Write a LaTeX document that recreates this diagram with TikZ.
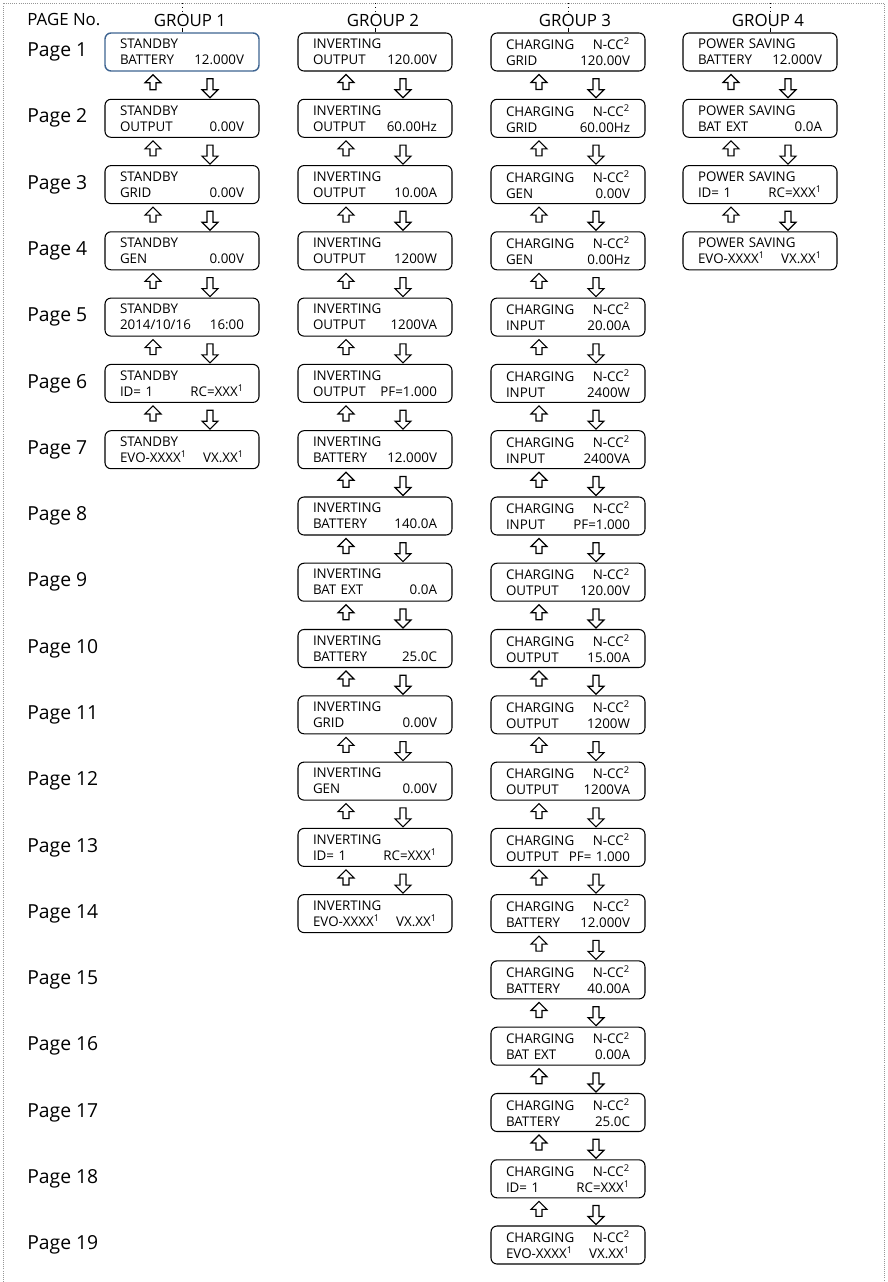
\documentclass[tikz,border=0pt]{standalone}
\usepackage{fontspec}
\setmainfont{Open Sans}
\usetikzlibrary{calc}
\definecolor{selblue}{RGB}{62, 100, 145}
\definecolor{framegray}{RGB}{150, 150, 150}

\begin{document}
\begin{tikzpicture}[
  x=0.02cm, y=-0.02cm,
  screen/.style={draw, semithick, rounded corners=3.4pt, minimum width=3.08cm, minimum height=0.76cm,
    text width=2.48cm, inner xsep=0.3cm, inner ysep=0pt, align=left, font=\fontsize{7.6}{9.1}\selectfont},
  active/.style={screen, draw=selblue, thick},
  pagelbl/.style={anchor=west, inner sep=0pt, font=\fontsize{11}{13}\selectfont},
  grouplbl/.style={inner sep=1pt, font=\fontsize{9.6}{12}\selectfont},
  frame/.style={draw=framegray, dash pattern=on 0.5pt off 0.7pt},
  updn/.style={draw, line width=0.65pt, to path={
    ($(\tikztostart.south)+(-29,3)$) -- ++(8,8) -- ++(-5,0) -- ++(0,7) -- ++(-6,0) -- ++(0,-7) -- ++(-5,0) -- cycle
    ($(\tikztotarget.north)+(28,-1)$) -- ++(8,-8) -- ++(-5,0) -- ++(0,-11) -- ++(-6,0) -- ++(0,11) -- ++(-5,0) -- cycle}}
]
  \useasboundingbox (0,0) rectangle (887,1282);
  \draw[frame] (3,1282) -- (3,3) -- (884,3) -- (884,1282);

  % Headers
  \node[pagelbl, font=\fontsize{9.6}{12}\selectfont] (pno) at (27,20) {PAGE No.};
  \node[grouplbl] (g1) at (190,20) {GROUP 1};
  \node[grouplbl] (g2) at (383,20) {GROUP 2};
  \node[grouplbl] (g3) at (575,20) {GROUP 3};
  \node[grouplbl] (g4) at (768,20) {GROUP 4};
  \coordinate (t1) at (182,3);
  \coordinate (t2) at (375,3);
  \coordinate (t3) at (568,3);
  \coordinate (t4) at (770,3);

  % Page numbers
  \node[pagelbl] (p1)  at (27,52)     {Page 1};
  \node[pagelbl] (p2)  at (27,118.3)  {Page 2};
  \node[pagelbl] (p3)  at (27,184.6)  {Page 3};
  \node[pagelbl] (p4)  at (27,250.8)  {Page 4};
  \node[pagelbl] (p5)  at (27,317.1)  {Page 5};
  \node[pagelbl] (p6)  at (27,383.4)  {Page 6};
  \node[pagelbl] (p7)  at (27,449.7)  {Page 7};
  \node[pagelbl] (p8)  at (27,516.0)  {Page 8};
  \node[pagelbl] (p9)  at (27,582.2)  {Page 9};
  \node[pagelbl] (p10) at (27,648.5)  {Page 10};
  \node[pagelbl] (p11) at (27,714.8)  {Page 11};
  \node[pagelbl] (p12) at (27,781.1)  {Page 12};
  \node[pagelbl] (p13) at (27,847.4)  {Page 13};
  \node[pagelbl] (p14) at (27,913.6)  {Page 14};
  \node[pagelbl] (p15) at (27,979.9)  {Page 15};
  \node[pagelbl] (p16) at (27,1046.2) {Page 16};
  \node[pagelbl] (p17) at (27,1112.5) {Page 17};
  \node[pagelbl] (p18) at (27,1178.8) {Page 18};
  \node[pagelbl] (p19) at (27,1245.0) {Page 19};

  % Standby column
  \node[active] (sb1) at (182,52)    {STANDBY\\BATTERY\hfill 12.000V};
  \node[screen] (sb2) at (182,118.3) {STANDBY\\OUTPUT\hfill 0.00V};
  \node[screen] (sb3) at (182,184.6) {STANDBY\\GRID\hfill 0.00V};
  \node[screen] (sb4) at (182,250.8) {STANDBY\\GEN\hfill 0.00V};
  \node[screen] (sb5) at (182,317.1) {STANDBY\\2014/10/16\hfill 16:00};
  \node[screen] (sb6) at (182,383.4) {STANDBY\\ID= 1\hfill RC=XXX\textsuperscript{1}};
  \node[screen] (sb7) at (182,449.7) {STANDBY\\EVO-XXXX\textsuperscript{1}\hfill VX.XX\textsuperscript{1}};

  % Inverting column
  \node[screen] (inv1)  at (375,52)    {INVERTING\\OUTPUT\hfill 120.00V};
  \node[screen] (inv2)  at (375,118.3) {INVERTING\\OUTPUT\hfill 60.00Hz};
  \node[screen] (inv3)  at (375,184.6) {INVERTING\\OUTPUT\hfill 10.00A};
  \node[screen] (inv4)  at (375,250.8) {INVERTING\\OUTPUT\hfill 1200W};
  \node[screen] (inv5)  at (375,317.1) {INVERTING\\OUTPUT\hfill 1200VA};
  \node[screen] (inv6)  at (375,383.4) {INVERTING\\OUTPUT\hfill PF=1.000};
  \node[screen] (inv7)  at (375,449.7) {INVERTING\\BATTERY\hfill 12.000V};
  \node[screen] (inv8)  at (375,516.0) {INVERTING\\BATTERY\hfill 140.0A};
  \node[screen] (inv9)  at (375,582.2) {INVERTING\\BAT EXT\hfill 0.0A};
  \node[screen] (inv10) at (375,648.5) {INVERTING\\BATTERY\hfill 25.0C};
  \node[screen] (inv11) at (375,714.8) {INVERTING\\GRID\hfill 0.00V};
  \node[screen] (inv12) at (375,781.1) {INVERTING\\GEN\hfill 0.00V};
  \node[screen] (inv13) at (375,847.4) {INVERTING\\ID= 1\hfill RC=XXX\textsuperscript{1}};
  \node[screen] (inv14) at (375,913.6) {INVERTING\\EVO-XXXX\textsuperscript{1}\hfill VX.XX\textsuperscript{1}};

  % Charging column
  \node[screen] (chg1)  at (568,52)     {CHARGING\hfill N-CC\textsuperscript{2}\\GRID\hfill 120.00V};
  \node[screen] (chg2)  at (568,118.3)  {CHARGING\hfill N-CC\textsuperscript{2}\\GRID\hfill 60.00Hz};
  \node[screen] (chg3)  at (568,184.6)  {CHARGING\hfill N-CC\textsuperscript{2}\\GEN\hfill 0.00V};
  \node[screen] (chg4)  at (568,250.8)  {CHARGING\hfill N-CC\textsuperscript{2}\\GEN\hfill 0.00Hz};
  \node[screen] (chg5)  at (568,317.1)  {CHARGING\hfill N-CC\textsuperscript{2}\\INPUT\hfill 20.00A};
  \node[screen] (chg6)  at (568,383.4)  {CHARGING\hfill N-CC\textsuperscript{2}\\INPUT\hfill 2400W};
  \node[screen] (chg7)  at (568,449.7)  {CHARGING\hfill N-CC\textsuperscript{2}\\INPUT\hfill 2400VA};
  \node[screen] (chg8)  at (568,516.0)  {CHARGING\hfill N-CC\textsuperscript{2}\\INPUT\hfill PF=1.000};
  \node[screen] (chg9)  at (568,582.2)  {CHARGING\hfill N-CC\textsuperscript{2}\\OUTPUT\hfill 120.00V};
  \node[screen] (chg10) at (568,648.5)  {CHARGING\hfill N-CC\textsuperscript{2}\\OUTPUT\hfill 15.00A};
  \node[screen] (chg11) at (568,714.8)  {CHARGING\hfill N-CC\textsuperscript{2}\\OUTPUT\hfill 1200W};
  \node[screen] (chg12) at (568,781.1)  {CHARGING\hfill N-CC\textsuperscript{2}\\OUTPUT\hfill 1200VA};
  \node[screen] (chg13) at (568,847.4)  {CHARGING\hfill N-CC\textsuperscript{2}\\OUTPUT\hfill PF= 1.000};
  \node[screen] (chg14) at (568,913.6)  {CHARGING\hfill N-CC\textsuperscript{2}\\BATTERY\hfill 12.000V};
  \node[screen] (chg15) at (568,979.9)  {CHARGING\hfill N-CC\textsuperscript{2}\\BATTERY\hfill 40.00A};
  \node[screen] (chg16) at (568,1046.2) {CHARGING\hfill N-CC\textsuperscript{2}\\BAT EXT\hfill 0.00A};
  \node[screen] (chg17) at (568,1112.5) {CHARGING\hfill N-CC\textsuperscript{2}\\BATTERY\hfill 25.0C};
  \node[screen] (chg18) at (568,1178.8) {CHARGING\hfill N-CC\textsuperscript{2}\\ID= 1\hfill RC=XXX\textsuperscript{1}};
  \node[screen] (chg19) at (568,1245.0) {CHARGING\hfill N-CC\textsuperscript{2}\\EVO-XXXX\textsuperscript{1}\hfill VX.XX\textsuperscript{1}};

  % Power saving column
  \node[screen] (ps1) at (760,52)    {POWER SAVING\\BATTERY\hfill 12.000V};
  \node[screen] (ps2) at (760,118.3) {POWER SAVING\\BAT EXT\hfill 0.0A};
  \node[screen] (ps3) at (760,184.6) {POWER SAVING\\ID= 1\hfill RC=XXX\textsuperscript{1}};
  \node[screen] (ps4) at (760,250.8) {POWER SAVING\\EVO-XXXX\textsuperscript{1}\hfill VX.XX\textsuperscript{1}};

  % Group ticks
  \draw[dotted] (t1) -- (t1 |- g1.north);
  \draw[dotted] (t2) -- (t2 |- g2.north);
  \draw[dotted] (t3) -- (t3 |- g3.north);
  \draw[dotted] (t4) -- (t4 |- g4.north);
  \draw (t1 |- g1.south) -- (t1 |- sb1.north);
  \draw (t2 |- g2.south) -- (t2 |- inv1.north);
  \draw (t3 |- g3.south) -- (t3 |- chg1.north);
  \draw (t4 |- g4.south) -- (t4 |- ps1.north);

  % Up/down arrows
  \draw[updn] (sb1) to (sb2);
  \draw[updn] (sb2) to (sb3);
  \draw[updn] (sb3) to (sb4);
  \draw[updn] (sb4) to (sb5);
  \draw[updn] (sb5) to (sb6);
  \draw[updn] (sb6) to (sb7);

  \draw[updn] (inv1) to (inv2);
  \draw[updn] (inv2) to (inv3);
  \draw[updn] (inv3) to (inv4);
  \draw[updn] (inv4) to (inv5);
  \draw[updn] (inv5) to (inv6);
  \draw[updn] (inv6) to (inv7);
  \draw[updn] (inv7) to (inv8);
  \draw[updn] (inv8) to (inv9);
  \draw[updn] (inv9) to (inv10);
  \draw[updn] (inv10) to (inv11);
  \draw[updn] (inv11) to (inv12);
  \draw[updn] (inv12) to (inv13);
  \draw[updn] (inv13) to (inv14);

  \draw[updn] (chg1) to (chg2);
  \draw[updn] (chg2) to (chg3);
  \draw[updn] (chg3) to (chg4);
  \draw[updn] (chg4) to (chg5);
  \draw[updn] (chg5) to (chg6);
  \draw[updn] (chg6) to (chg7);
  \draw[updn] (chg7) to (chg8);
  \draw[updn] (chg8) to (chg9);
  \draw[updn] (chg9) to (chg10);
  \draw[updn] (chg10) to (chg11);
  \draw[updn] (chg11) to (chg12);
  \draw[updn] (chg12) to (chg13);
  \draw[updn] (chg13) to (chg14);
  \draw[updn] (chg14) to (chg15);
  \draw[updn] (chg15) to (chg16);
  \draw[updn] (chg16) to (chg17);
  \draw[updn] (chg17) to (chg18);
  \draw[updn] (chg18) to (chg19);

  \draw[updn] (ps1) to (ps2);
  \draw[updn] (ps2) to (ps3);
  \draw[updn] (ps3) to (ps4);
\end{tikzpicture}
\end{document}
